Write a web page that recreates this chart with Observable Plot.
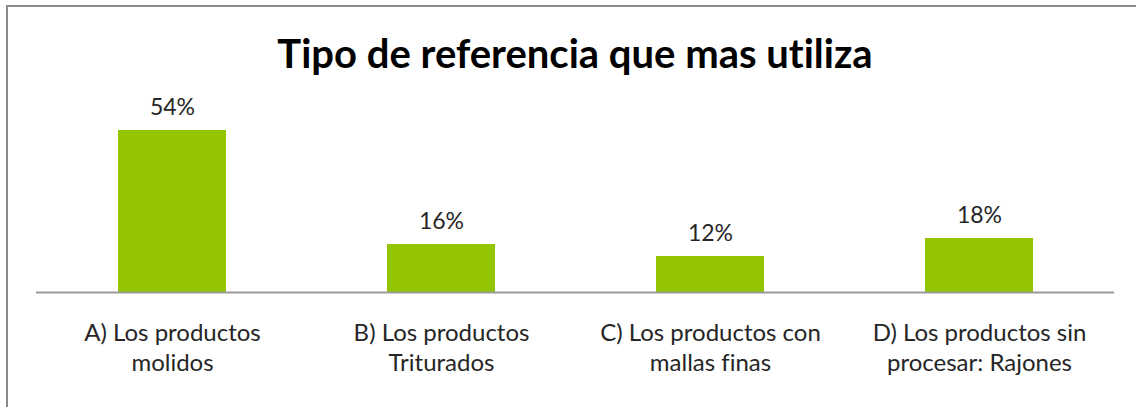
<!DOCTYPE html>
<html>
<head>
<meta charset="utf-8">
<script src="https://cdn.jsdelivr.net/npm/d3@7"></script>
<script src="https://cdn.jsdelivr.net/npm/@observablehq/plot@0.6"></script>
<style>
  html, body { margin: 0; padding: 0; background: #fff; }
  #wrap { position: relative; width: 1136px; height: 407px; overflow: hidden; font-family: Lato, "Open Sans", sans-serif; font-variant-ligatures: none; }
  #frame { position: absolute; left: 6px; top: 5px; width: 1200px; height: 500px; border: 2px solid #8a8a8a; box-sizing: border-box; }
  #title { position: absolute; left: 0; top: 0; width: 1136px; height: 90px; box-sizing: border-box; padding-top: 33px; padding-left: 14px; text-align: center; font-size: 40px; line-height: 40px; font-weight: bold; color: #000; font-variant-ligatures: none; }
  #chart { position: absolute; left: 0; top: 90px; }
  #chart svg text { font-variant-ligatures: none; }
</style>
</head>
<body>
<div id="wrap">
  <div id="frame"></div>
  <div id="title">Tipo de referencia que mas utiliza</div>
  <div id="chart"></div>
</div>
<script>
const categories = [
  "A) Los productos\nmolidos",
  "B) Los productos\nTriturados",
  "C) Los productos con\nmallas finas",
  "D) Los productos sin\nprocesar: Rajones"
];
const values = [54, 16, 12, 18];
const valueLabels = ["54%", "16%", "12%", "18%"];

const data = categories.map((c, i) => ({cat: c, v: values[i], lab: valueLabels[i]}));

const plot = Plot.plot({
  width: 1136,
  height: 317,
  marginLeft: 36,
  marginRight: 22,
  marginTop: 22,
  marginBottom: 115,
  style: {fontFamily: "Lato, 'Open Sans', sans-serif", background: "transparent"},
  x: {domain: categories, paddingInner: 0.6, paddingOuter: 0.3, axis: null},
  y: {domain: [0, 60], axis: null},
  marks: [
    Plot.barY(data, {x: "cat", y: "v", fill: "#92c500"}),
    Plot.ruleY([0], {stroke: "#9a9a9a", strokeWidth: 2}),
    Plot.text(data, {x: "cat", y: "v", text: "lab", lineAnchor: "bottom", dy: -16, fontSize: 23, fill: "#262626"}),
    Plot.text(data, {x: "cat", y: 0, text: "cat", lineAnchor: "top", dy: 27, fontSize: 24, lineHeight: 1.25, fill: "#262626"})
  ]
});
document.getElementById("chart").appendChild(plot);
</script>
</body>
</html>
